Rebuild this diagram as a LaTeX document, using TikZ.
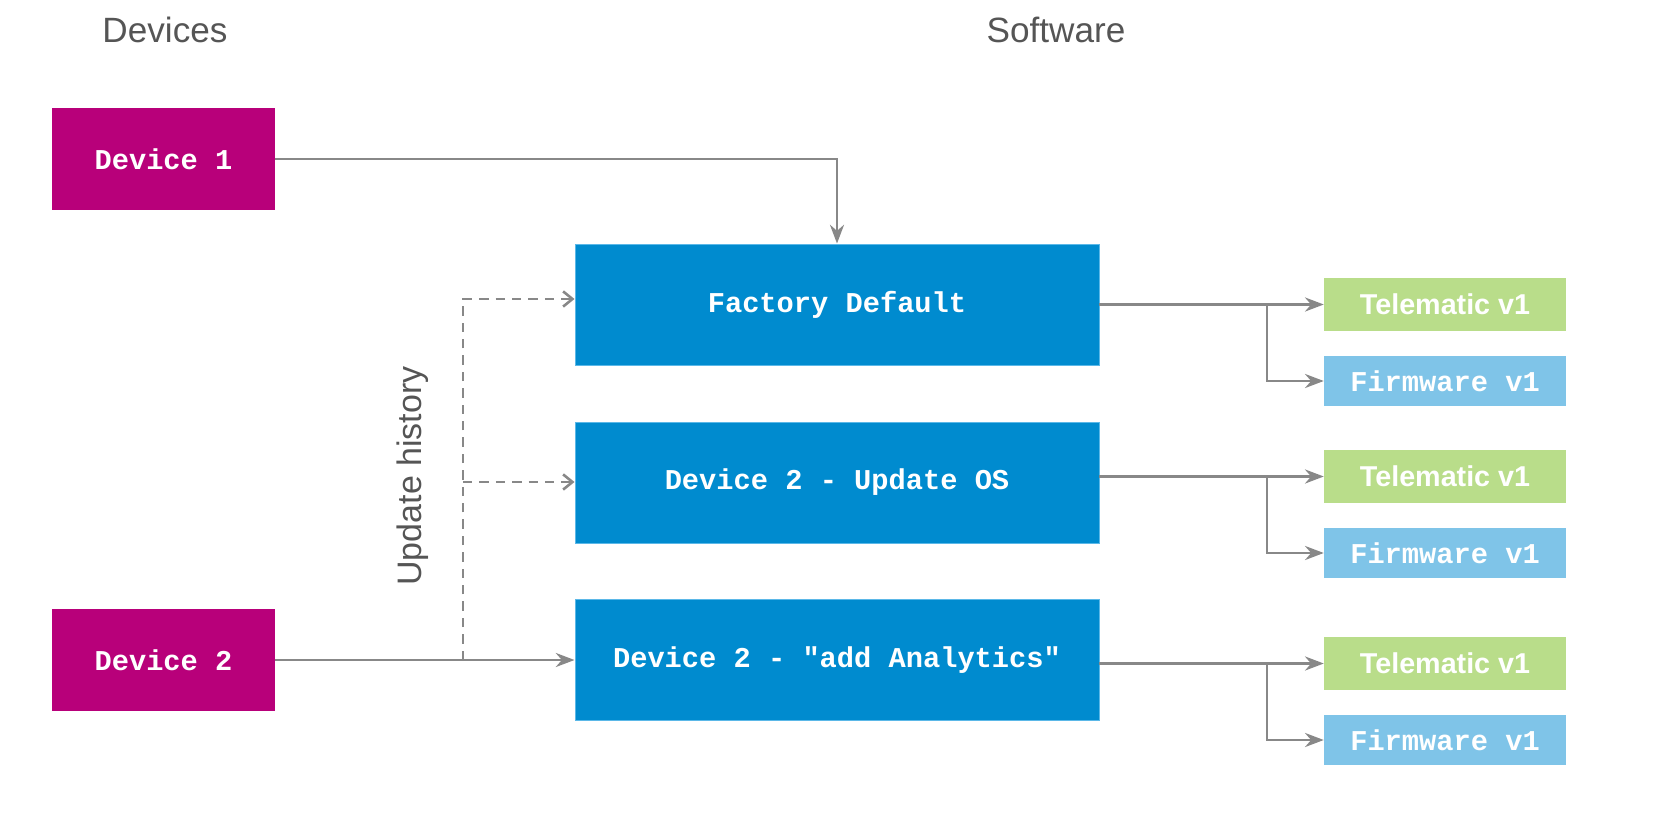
\documentclass[tikz,border=0pt]{standalone}
\usepackage{fontspec}
\setmainfont{Liberation Sans}
\newfontfamily\monob{Liberation Mono}
\usetikzlibrary{arrows.meta}
\definecolor{mag}{HTML}{B8007A}
\definecolor{blu}{HTML}{008BCF}
\definecolor{blub}{HTML}{5BB8E8}
\definecolor{grn}{HTML}{B9DD8A}
\definecolor{lbl}{HTML}{7FC4E8}
\definecolor{arr}{HTML}{888888}
\definecolor{txt}{HTML}{555555}
\begin{document}
\begin{tikzpicture}[x=0.03cm,y=-0.03cm,
 mono/.style={font=\monob\bfseries\fontsize{24.5}{28}\selectfont,text=white},
 dev/.style={mono,fill=mag,draw=none,minimum width=6.69cm,minimum height=3.06cm,inner sep=0},
 sw/.style={mono,fill=blu,draw=blub,line width=0.8pt,minimum width=15.72cm,minimum height=3.63cm,inner sep=0},
 tel/.style={fill=grn,text=white,font=\bfseries\fontsize{24.5}{28}\selectfont,minimum width=7.26cm,minimum height=1.59cm,inner sep=0},
 fw/.style={mono,fill=lbl,minimum width=7.26cm,minimum height=1.5cm,inner sep=0},
 con/.style={draw=arr,line width=2.2pt,-{Stealth[length=16pt,width=12pt]}},
 dcon/.style={draw=arr,line width=2.2pt,dash pattern=on 8pt off 6pt,-{Straight Barb[length=8pt,width=13pt]}},
 head/.style={text=txt,font=\fontsize{30}{34}\selectfont}]
\useasboundingbox (0,0) rectangle (1676,818);
\node[head] (hd) at (165,30) {Devices};
\node[head] (hs) at (1056,30) {Software};
\node[dev] (d1) at (163.5,159) {Device 1};
\node[dev] (d2) at (163.5,660) {Device 2};
\node[sw] (s1) at (837,304.5) {Factory Default};
\node[sw] (s2) at (837,482.5) {Device 2 - Update OS};
\node[sw] (s3) at (837,660) {Device 2 - "add Analytics"};
\node[head,rotate=90,font=\fontsize{29}{32}\selectfont] (uh) at (413,476) {Update history};
\foreach \i/\ty/\fy in {1/304.5/381, 2/476.5/553, 3/663.5/740}{
  \node[tel] (t\i) at (1445,\ty) {Telematic v1};
  \node[fw] (f\i) at (1445,\fy) {Firmware v1};
  \coordinate (b\i) at (1267,\ty);
  \draw[con] (s\i.east |- t\i) -- (t\i.west);
  \draw[con] (b\i) |- (f\i.west);
}
\draw[con] (d1.east) -| (s1.north);
\draw[con] (d2.east) -- (s3.west);
\coordinate (j) at (463,660);
\coordinate (jt) at (463,299);
\draw[dcon] (j) -- (jt) -- (s1.west |- jt);
\coordinate (jm) at (463,482);
\draw[dcon] (jm) -- (s2.west |- jm);
\end{tikzpicture}
\end{document}
